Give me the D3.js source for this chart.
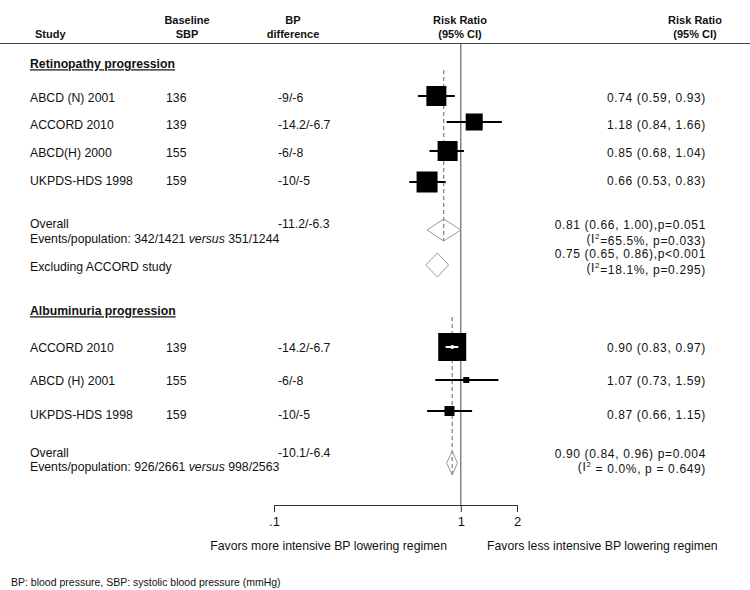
<!DOCTYPE html>
<html>
<head>
<meta charset="utf-8">
<script src="https://cdn.jsdelivr.net/npm/d3@7"></script>
<style>
  html, body { margin: 0; padding: 0; background: #fff; }
  svg { display: block; font-family: "Liberation Sans", Arial, sans-serif; }
</style>
</head>
<body>
<svg id="chart" width="750" height="590"></svg>
<script>
// ---------------- DATA ----------------
const headerCols = [["Study"], ["Baseline", "SBP"], ["BP", "difference"], ["Risk Ratio", "(95% CI)"], ["Risk Ratio", "(95% CI)"]];

const retinoTitle = "Retinopathy progression";
const retinoStudies = ["ABCD (N) 2001", "ACCORD 2010", "ABCD(H) 2000", "UKPDS-HDS 1998"];
const retinoSBP = ["136", "139", "155", "159"];
const retinoBPdiff = ["-9/-6", "-14.2/-6.7", "-6/-8", "-10/-5"];
const retinoRR = [0.74, 1.18, 0.85, 0.66];
const retinoLo = [0.59, 0.84, 0.68, 0.53];
const retinoHi = [0.93, 1.66, 1.04, 0.83];
const retinoWeight = [26.1, 18.9, 26.1, 28.8];
const retinoOverall = { rr: 0.81, lo: 0.66, hi: 1.00, bp: "-11.2/-6.3", p: ",p=0.051", het: "=65.5%, p=0.033)",
  events: ["Events/population: 342/1421 ", "versus", " 351/1244"] };
const retinoExcl = { label: "Excluding ACCORD study", rr: 0.75, lo: 0.65, hi: 0.86, p: ",p<0.001", het: "=18.1%, p=0.295)" };

const albTitle = "Albuminuria progression";
const albStudies = ["ACCORD 2010", "ABCD (H) 2001", "UKPDS-HDS 1998"];
const albSBP = ["139", "155", "159"];
const albBPdiff = ["-14.2/-6.7", "-6/-8", "-10/-5"];
const albRR = [0.90, 1.07, 0.87];
const albLo = [0.83, 0.73, 0.66];
const albHi = [0.97, 1.59, 1.15];
const albWeight = [85.2, 3.9, 10.9];
const albOverall = { rr: 0.90, lo: 0.84, hi: 0.96, bp: "-10.1/-6.4", p: " p=0.004", het: " = 0.0%, p = 0.649)",
  events: ["Events/population: 926/2661 ", "versus", " 998/2563"] };

const tickValues = [0.1, 1, 2];
const tickLabels = [".1", "1", "2"];
const favorLeft = "Favors more intensive BP lowering regimen";
const favorRight = "Favors less intensive BP lowering regimen";
const footnote = "BP: blood pressure, SBP: systolic blood pressure (mmHg)";

// ---------------- LAYOUT ----------------
const svg = d3.select("#chart");
const x = d3.scaleLog().domain([0.1, 2]).range([274, 517]);
const axisY = 505;
const FS = 12.25;
const colX = { study: 30, sbp: 166, bp: 278, right: 706 };
const headerX = [35, 187, 293, 460, 695];
const fmt = d3.format(".2f");
const ciText = (r, l, h) => `${fmt(r)} (${fmt(l)}, ${fmt(h)})`;

// row y (marker centre) and text y
const retinoY = d3.scaleOrdinal().domain(d3.range(4)).range([96, 122, 151, 182]);
const retinoTY = d3.scaleOrdinal().domain(d3.range(4)).range([98, 125, 153, 181]);
const albY = d3.scaleOrdinal().domain(d3.range(3)).range([347, 380, 411]);
const albTY = d3.scaleOrdinal().domain(d3.range(3)).range([348, 381, 415]);

const txt = (sel, xx, yy, s, opts = {}) => {
  const t = sel.append("text").attr("x", xx).attr("y", yy).attr("dy", "0.35em")
    .attr("font-size", opts.size || FS).attr("fill", "#111")
    .attr("text-anchor", opts.anchor || "start").text(s);
  if (opts.bold) t.attr("font-weight", "bold");
  if (opts.underline) t.attr("text-decoration", "underline");
  if (opts.ls) t.attr("letter-spacing", opts.ls);
  return t;
};
const RLS = 0.65;
const rtxt = (yy, s) => txt(svg, colX.right, yy, s, { anchor: "end", size: 12, ls: RLS });

// ---------------- HEADER ----------------
headerCols.forEach((lines, i) => {
  const n = lines.length;
  lines.forEach((s, j) => {
    txt(svg, headerX[i], 34 - (n - 1 - j) * 14, s, { anchor: i === 0 ? "start" : "middle", bold: true, size: 11 });
  });
});
svg.append("line").attr("x1", 0).attr("x2", 750).attr("y1", 43.5).attr("y2", 43.5)
  .attr("stroke", "#444").attr("stroke-width", 1);

// reference line at 1
svg.append("line").attr("x1", x(1)).attr("x2", x(1)).attr("y1", 44).attr("y2", axisY)
  .attr("stroke", "#666").attr("stroke-width", 1.2);

// dashed overall lines
svg.append("line").attr("x1", x(retinoOverall.rr)).attr("x2", x(retinoOverall.rr))
  .attr("y1", 70).attr("y2", 241).attr("stroke", "#888").attr("stroke-width", 1.3).attr("stroke-dasharray", "4,3");
svg.append("line").attr("x1", x(albOverall.rr)).attr("x2", x(albOverall.rr))
  .attr("y1", 317).attr("y2", 475).attr("stroke", "#888").attr("stroke-width", 1.3).attr("stroke-dasharray", "4,3");

// ---------------- STUDY ROWS ----------------
function drawSection(title, titleY, studies, sbp, bpd, rr, lo, hi, w, yM, yT, maxSide) {
  txt(svg, colX.study, titleY, title, { bold: true, underline: true });
  const size = d3.scaleSqrt().domain([0, d3.max(w)]).range([0, maxSide]);
  studies.forEach((s, i) => {
    const ty = yT(i), my = yM(i);
    txt(svg, colX.study, ty, s);
    txt(svg, colX.sbp, ty, sbp[i]);
    txt(svg, colX.bp, ty, bpd[i]);
    rtxt(ty, ciText(rr[i], lo[i], hi[i]));
    const side = size(w[i]);
    const cx = x(rr[i]);
    svg.append("rect").attr("x", cx - side / 2).attr("y", my - side / 2)
      .attr("width", side).attr("height", side).attr("fill", "#000");
    const inside = x(lo[i]) >= cx - side / 2 && x(hi[i]) <= cx + side / 2;
    const col = inside ? "#fff" : "#000";
    svg.append("line").attr("x1", x(lo[i])).attr("x2", x(hi[i])).attr("y1", my).attr("y2", my)
      .attr("stroke", col).attr("stroke-width", 2);
    if (inside) {
      svg.append("circle").attr("cx", cx).attr("cy", my).attr("r", 2).attr("fill", "#fff");
    }
  });
}

function diamond(o, cy, half) {
  const pts = [[x(o.lo), cy], [x(o.rr), cy - half], [x(o.hi), cy], [x(o.rr), cy + half]];
  svg.append("path").attr("d", d3.line()(pts) + "Z")
    .attr("fill", "none").attr("stroke", "#999").attr("stroke-width", 1);
}

function hetText(yy, het) {
  const t = svg.append("text").attr("x", colX.right).attr("y", yy).attr("dy", "0.35em")
    .attr("font-size", 12).attr("letter-spacing", RLS).attr("fill", "#111").attr("text-anchor", "end");
  t.append("tspan").text("(I");
  t.append("tspan").attr("font-size", 8).attr("dy", "-0.5em").text("2");
  t.append("tspan").attr("dy", "0.5em").text(het);
}

function eventsText(yy, parts) {
  const t = svg.append("text").attr("x", colX.study).attr("y", yy).attr("dy", "0.35em")
    .attr("font-size", FS).attr("fill", "#111");
  t.append("tspan").text(parts[0]);
  t.append("tspan").attr("font-style", "italic").text(parts[1]);
  t.append("tspan").text(parts[2]);
}

// Retinopathy
drawSection(retinoTitle, 64, retinoStudies, retinoSBP, retinoBPdiff, retinoRR, retinoLo, retinoHi, retinoWeight, retinoY, retinoTY, 21);
txt(svg, colX.study, 224, "Overall");
txt(svg, colX.bp, 224, retinoOverall.bp);
eventsText(239, retinoOverall.events);
rtxt(225, ciText(retinoOverall.rr, retinoOverall.lo, retinoOverall.hi) + retinoOverall.p);
hetText(239, retinoOverall.het);
diamond(retinoOverall, 230, 11);

txt(svg, colX.study, 267, retinoExcl.label);
rtxt(254, ciText(retinoExcl.rr, retinoExcl.lo, retinoExcl.hi) + retinoExcl.p);
hetText(268, retinoExcl.het);
diamond(retinoExcl, 265, 12);

// Albuminuria
drawSection(albTitle, 311, albStudies, albSBP, albBPdiff, albRR, albLo, albHi, albWeight, albY, albTY, 28);
txt(svg, colX.study, 453, "Overall");
txt(svg, colX.bp, 453, albOverall.bp);
eventsText(467, albOverall.events);
rtxt(453.5, ciText(albOverall.rr, albOverall.lo, albOverall.hi) + albOverall.p);
hetText(467, albOverall.het);
diamond(albOverall, 463, 12);

// ---------------- AXIS ----------------
const axis = d3.axisBottom(x).tickValues(tickValues)
  .tickFormat((d, i) => tickLabels[i]).tickSize(7).tickSizeOuter(0).tickPadding(5);
const ag = svg.append("g").attr("transform", `translate(0,${axisY})`).call(axis);
ag.select(".domain").attr("stroke", "#333");
ag.selectAll(".tick line").attr("stroke", "#333");
ag.selectAll(".tick text").attr("font-size", 13).attr("fill", "#111")
  .attr("font-family", "Liberation Sans, Arial, sans-serif");

txt(svg, 447, 546, favorLeft, { anchor: "end" });
txt(svg, 487, 546, favorRight);
txt(svg, 11, 582, footnote, { size: 10.5 });
</script>
</body>
</html>
